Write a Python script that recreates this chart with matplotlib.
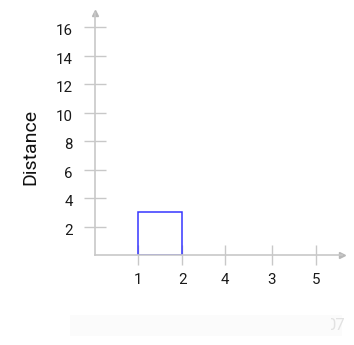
import matplotlib
matplotlib.use("Agg")
import matplotlib.pyplot as plt
import matplotlib.transforms as mtransforms
from matplotlib.patches import Rectangle

plt.rcParams['font.family'] = ['Roboto', 'DejaVu Sans']

# ---- data ----
bar_starts = [1]
bar_widths = [1]
bar_heights = [3]
x_tick_positions = [1, 2, 2.96, 4.03, 5.03]
x_tick_labels = ['1', '2', '4', '3', '5']
y_ticks = [2, 4, 6, 8, 10, 12, 14, 16]
y_label = "Distance"
x_max = 5.63
y_max = 17.0
footer_text = "07"

W, H = 354, 345
fig = plt.figure(figsize=(W / 100, H / 100), dpi=100)
fig.patch.set_facecolor('white')

ax_left, ax_bottom = 94.5, 90
ax_w, ax_h = 342 - 94.5, 255 - 13
ax = fig.add_axes([ax_left / W, ax_bottom / H, ax_w / W, ax_h / H])
ax.set_xlim(0, x_max)
ax.set_ylim(0, y_max)

axis_color = '#c8c8c8'
for s in ['top', 'right']:
    ax.spines[s].set_visible(False)
for s in ['left', 'bottom']:
    ax.spines[s].set_color(axis_color)
    ax.spines[s].set_linewidth(1.2)
    ax.spines[s].set_zorder(3)

# arrow heads
ax.plot(1, 0, '>', transform=ax.get_yaxis_transform(), clip_on=False,
        color='#b8b8b8', markersize=4.5, zorder=3)
ax.plot(0, 1, '^', transform=ax.get_xaxis_transform(), clip_on=False,
        color='#b8b8b8', markersize=4.5, zorder=3)

# bar outline (no fill)
ax.bar(bar_starts, bar_heights, width=bar_widths, align='edge',
       fill=False, edgecolor='#3535ff', linewidth=1.1, zorder=2)

ax.set_xticks(x_tick_positions)
ax.set_xticklabels(x_tick_labels)
ax.set_yticks(y_ticks)
ax.set_yticklabels([str(v) for v in y_ticks])

ax.tick_params(axis='x', direction='inout', length=14.5, width=1.0,
               color=axis_color, pad=5.6, labelsize=10.8, labelcolor='#1a1a1a')
ax.tick_params(axis='y', direction='inout', length=16, width=1.0,
               color=axis_color, pad=7.5, labelsize=10.8, labelcolor='#1a1a1a')

# shift y tick labels slightly downward
offset = mtransforms.ScaledTranslation(0, -2.5 / 100, fig.dpi_scale_trans)
for lab in ax.get_yticklabels():
    lab.set_transform(lab.get_transform() + offset)

fig.text(30 / W, 1 - 147 / H, y_label, rotation=90, ha='center', va='center',
         fontsize=14, color='#111111')

# faint footer band
fig.patches.append(Rectangle((70 / W, 1 - 336 / H), 272 / W, 21 / H,
                             transform=fig.transFigure, facecolor='#fbfbfb',
                             edgecolor='none', zorder=0))
t = fig.text(345 / W, 1 - 326 / H, footer_text, ha='right', va='center',
             fontsize=12, color='#e2e2e2')
clip = Rectangle((331 / W, 0), 30 / W, 1, transform=fig.transFigure,
                 facecolor='none', edgecolor='none')
t.set_clip_path(clip)

fig.savefig('out.png', dpi=100, facecolor='white')
